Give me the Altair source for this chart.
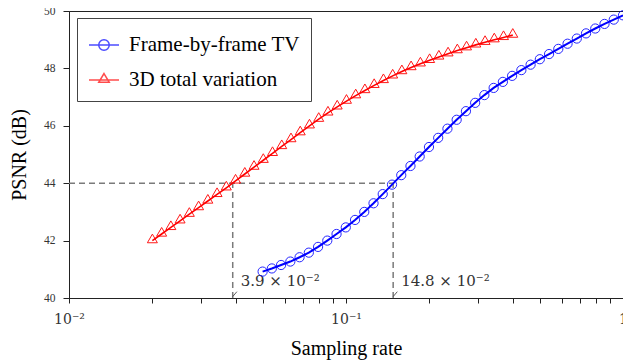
import altair as alt
import pandas as pd

# ---- data ----
series_names = ["Frame-by-frame TV", "3D total variation"]
series_colors = ["#0000ff", "#ff0000"]

fbf_rate = [0.05, 0.05399, 0.0583, 0.06296, 0.06799, 0.07341, 0.07928, 0.0856,
            0.09244, 0.09982, 0.1078, 0.1164, 0.1257, 0.1357, 0.1466, 0.1583,
            0.1709, 0.1845, 0.1993, 0.2152, 0.2324, 0.2509, 0.271, 0.2926,
            0.3159, 0.3412, 0.3684, 0.3978, 0.4296, 0.4639, 0.5009, 0.5409,
            0.5841, 0.6307, 0.6811, 0.7355, 0.7942, 0.8576, 0.9261, 1.0]
fbf_psnr = [40.92, 41.03, 41.15, 41.27, 41.42, 41.58, 41.78, 42.00, 42.23, 42.46,
            42.72, 43.00, 43.30, 43.62, 43.95, 44.28, 44.60, 44.93, 45.26, 45.58,
            45.90, 46.21, 46.51, 46.80, 47.07, 47.32, 47.53, 47.74, 47.94, 48.13,
            48.32, 48.50, 48.68, 48.86, 49.04, 49.22, 49.39, 49.55, 49.70, 49.85]

tv3d_rate = [0.02, 0.0216, 0.02332, 0.02518, 0.02719, 0.02937, 0.03171, 0.03424,
             0.03698, 0.03993, 0.04312, 0.04656, 0.05028, 0.05429, 0.05862, 0.0633,
             0.06836, 0.07382, 0.07971, 0.08607, 0.09295, 0.1004, 0.1084, 0.117,
             0.1264, 0.1365, 0.1474, 0.1591, 0.1718, 0.1856, 0.2004, 0.2164,
             0.2336, 0.2523, 0.2724, 0.2942, 0.3177, 0.343, 0.3704, 0.4]
tv3d_psnr = [42.00, 42.23, 42.46, 42.69, 42.92, 43.15, 43.38, 43.61, 43.84, 44.08,
             44.32, 44.56, 44.80, 45.04, 45.28, 45.52, 45.76, 46.00, 46.23, 46.45,
             46.66, 46.86, 47.05, 47.23, 47.41, 47.58, 47.74, 47.89, 48.03, 48.16,
             48.28, 48.40, 48.51, 48.62, 48.72, 48.82, 48.91, 49.00, 49.08, 49.16]

ref_rates = [0.039, 0.148]
ref_psnr = 44.0
ref_labels = ["3.9 × 10⁻²", "14.8 × 10⁻²"]

x_tick_values = [0.01, 0.02, 0.03, 0.04, 0.05, 0.06, 0.07, 0.08, 0.09,
                 0.1, 0.2, 0.3, 0.4, 0.5, 0.6, 0.7, 0.8, 0.9, 1]
y_tick_values = [40, 42, 44, 46, 48, 50]

# ---- tables ----
fbf_df = pd.DataFrame({"rate": fbf_rate, "psnr": fbf_psnr})
tv_df = pd.DataFrame({"rate": tv3d_rate, "psnr": tv3d_psnr})
hline_df = pd.DataFrame({"x": [0.01], "x2": [max(ref_rates)], "y": [ref_psnr]})
vline_df = pd.DataFrame({"x": ref_rates, "y": [40.0] * 2, "y2": [ref_psnr] * 2})
text_df = pd.DataFrame({"x": ref_rates, "y": [40.42] * 2, "label": ref_labels})
pin_df = pd.DataFrame({"x": ref_rates, "x2": [r * 1.035 for r in ref_rates],
                       "y": [40.05] * 2, "y2": [40.22] * 2})
legend_df = pd.DataFrame({"series": series_names, "rate": [0.001, 0.001], "psnr": [45, 45]})

circ_legend = "M-1,0L1,0M0.35,0A0.35,0.35,0,1,1,-0.35,0A0.35,0.35,0,1,1,0.35,0"
tri_legend = "M-1,0L1,0M0,-0.43L0.35,0.15L-0.35,0.15Z"
tri_plot = "M0,-1.3L1,0.43L-1,0.43Z"

xs = alt.Scale(type="log", domain=[0.01, 1], nice=False)
ys = alt.Scale(domain=[40, 50], nice=False)

x_axis = alt.Axis(
    title="Sampling rate", values=x_tick_values,
    labelExpr="datum.value == 0.01 ? '10⁻²' : (datum.value == 0.1 ? '10⁻¹' : (datum.value == 1 ? '1' : ''))",
    labelFlush=False, labelOverlap=False, tickSize=5, labelPadding=9,
    labelFont="DejaVu Serif", labelFontSize=14, labelColor="#333",
    titleFont="Liberation Serif", titleFontSize=20, titleFontWeight="normal",
    titleColor="black", titlePadding=12, grid=False,
)
y_axis = alt.Axis(
    title="PSNR (dB)", values=y_tick_values, labelFlush=False, tickSize=6,
    labelPadding=8, labelFont="Liberation Serif", labelFontSize=11.5, labelColor="#333",
    titleFont="Liberation Serif", titleFontSize=20, titleFontWeight="normal",
    titleColor="black", titlePadding=14, grid=False,
)

X = alt.X("rate:Q", scale=xs, axis=x_axis)
Y = alt.Y("psnr:Q", scale=ys, axis=y_axis)

hline = alt.Chart(hline_df).mark_rule(color="#7a7a7a", strokeWidth=1.5, strokeDash=[6, 4]).encode(
    x=alt.X("x:Q", scale=xs), x2="x2:Q", y=alt.Y("y:Q", scale=ys))
vline = alt.Chart(vline_df).mark_rule(color="#7a7a7a", strokeWidth=1.5, strokeDash=[6, 4]).encode(
    x=alt.X("x:Q", scale=xs), y=alt.Y("y:Q", scale=ys), y2="y2:Q")
pins = alt.Chart(pin_df).mark_rule(color="#333", strokeWidth=0.8).encode(
    x=alt.X("x:Q", scale=xs), x2="x2:Q", y=alt.Y("y:Q", scale=ys), y2="y2:Q")
texts = alt.Chart(text_df).mark_text(align="left", baseline="alphabetic", dx=8,
                                     font="DejaVu Serif", fontSize=15, color="#333").encode(
    x=alt.X("x:Q", scale=xs), y=alt.Y("y:Q", scale=ys), text="label:N")

red_line = alt.Chart(tv_df).mark_line(color=series_colors[1], strokeWidth=1.6).encode(x=X, y=Y)
red_pts = alt.Chart(tv_df).mark_point(shape=tri_plot, filled=False, size=100, color=series_colors[1],
                                      strokeWidth=1, opacity=0.9).encode(x=X, y=Y)
blue_line = alt.Chart(fbf_df).mark_line(color=series_colors[0], strokeWidth=2).encode(x=X, y=Y)
blue_pts = alt.Chart(fbf_df).mark_point(shape="circle", filled=False, size=85, color=series_colors[0],
                                        strokeWidth=1, opacity=0.85).encode(x=X, y=Y)

leg = alt.Legend(title=None, orient="none", legendX=8, legendY=7, fillColor="white",
                 strokeColor="#444", padding=11, symbolSize=900, symbolStrokeWidth=1.5,
                 labelFont="Liberation Serif", labelFontSize=21, labelColor="black",
                 labelOffset=9, rowPadding=9, labelLimit=0, symbolFillColor="white",
                 labelExpr="datum.label + '\u2002'")
legend_layer = alt.Chart(legend_df).mark_point(filled=False, clip=True, strokeWidth=1.5).encode(
    x=alt.X("rate:Q", scale=xs), y=alt.Y("psnr:Q", scale=ys),
    color=alt.Color("series:N", scale=alt.Scale(domain=series_names, range=series_colors), legend=leg),
    shape=alt.Shape("series:N", scale=alt.Scale(domain=series_names, range=[circ_legend, tri_legend]), legend=leg),
)

chart = alt.layer(hline, vline, pins, texts, red_line, red_pts, blue_line, blue_pts, legend_layer).properties(
    width=554, height=287,
    autosize=alt.AutoSizeParams(type="none"),
    padding={"left": 61, "top": 3, "right": 0, "bottom": 62},
).configure_view(stroke="#222", strokeWidth=1).configure_axis(
    domainColor="#222", tickColor="#222", domainWidth=1, tickWidth=1)

chart.save("out.html", embed_options={"renderer": "svg", "actions": False})
